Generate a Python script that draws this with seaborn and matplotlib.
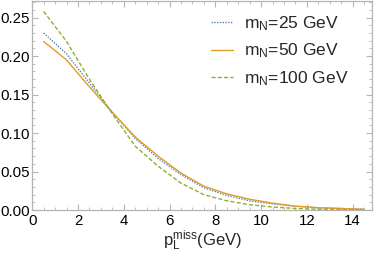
import numpy as np
import pandas as pd
import matplotlib
matplotlib.use('Agg')
import matplotlib.pyplot as plt
from matplotlib.ticker import MultipleLocator
import seaborn as sns

# bin centres of the missing longitudinal momentum (GeV)
p_miss = [0.5, 1.5, 2.5, 3.5, 4.5, 5.5, 6.5, 7.5, 8.5, 9.5, 10.5, 11.5, 12.5, 13.5, 14.5]

# normalised distributions
m25 = [0.230, 0.203, 0.165, 0.127, 0.093, 0.067, 0.046, 0.029, 0.019, 0.012, 0.008, 0.005, 0.003, 0.002, 0.001]
m50 = [0.219, 0.195, 0.160, 0.127, 0.095, 0.070, 0.048, 0.031, 0.021, 0.014, 0.009, 0.005, 0.003, 0.002, 0.001]
m100 = [0.258, 0.219, 0.170, 0.125, 0.083, 0.057, 0.035, 0.020, 0.012, 0.007, 0.004, 0.002, 0.001, 0.0005, 0.0002]

labels = [r'$\mathregular{m_N}$=25 GeV', r'$\mathregular{m_N}$=50 GeV', r'$\mathregular{m_N}$=100 GeV']
colors = ['#5e81b5', '#e19c24', '#8fb032']

sns.set_theme(style='ticks')
plt.rcParams['font.family'] = ['Liberation Sans', 'DejaVu Sans']

records = []
for lab, vals in zip(labels, [m25, m50, m100]):
    for x, y in zip(p_miss, vals):
        records.append({'p': x, 'val': y, 'mass': lab})
df = pd.DataFrame(records)

fig, ax = plt.subplots(figsize=(3.74, 2.54), dpi=100)
fig.subplots_adjust(left=0.086, right=0.995, bottom=0.173, top=0.996)

sns.lineplot(data=df, x='p', y='val', hue='mass', style='mass',
             hue_order=labels, style_order=labels,
             palette=dict(zip(labels, colors)),
             dashes={labels[0]: (1, 1), labels[1]: '', labels[2]: (3, 1.5)},
             linewidth=1.0, ax=ax, legend=True)

ax.set_xlim(0, 14.85)
ax.set_ylim(0, 0.2715)
ax.xaxis.set_major_locator(MultipleLocator(2))
ax.xaxis.set_minor_locator(MultipleLocator(0.5))
ax.yaxis.set_major_locator(MultipleLocator(0.05))
ax.yaxis.set_minor_locator(MultipleLocator(0.01))
ax.yaxis.set_major_formatter(plt.FuncFormatter(lambda v, _: f'{v:.2f}'))

frame = '#b4b4b4'
for s in ax.spines.values():
    s.set_color(frame)
    s.set_linewidth(0.9)
ax.tick_params(which='both', direction='in', top=True, right=True, color=frame,
               labelsize=10.8, labelcolor='black')
ax.tick_params(axis='y', pad=1.5)
ax.tick_params(axis='x', pad=3)
ax.tick_params(which='major', length=4, width=0.8)
ax.tick_params(which='minor', length=2, width=0.6)

ax.set_xlabel(r'$\mathregular{p_L^{miss}}$(GeV)', fontsize=12, labelpad=0)
ax.set_ylabel('')

ax.legend(loc='upper right', frameon=False, fontsize=12.5, handlelength=1.3,
          handletextpad=0.6, labelspacing=0.5, borderaxespad=0.3,
          bbox_to_anchor=(0.965, 0.995))

fig.savefig('out.png', dpi=100)
